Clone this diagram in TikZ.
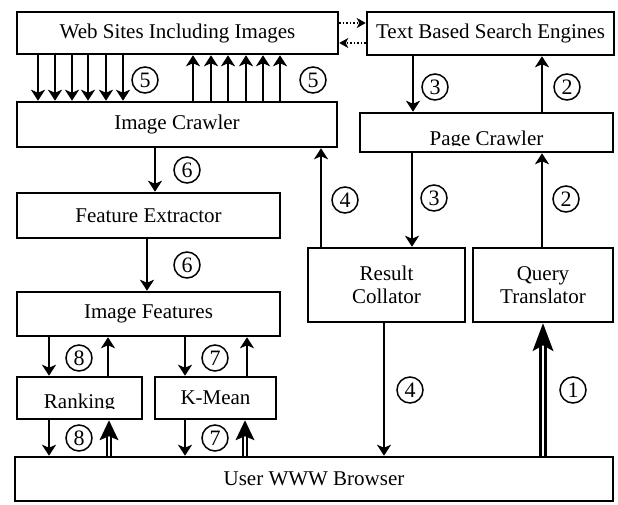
\documentclass[tikz,border=0pt]{standalone}
\usepackage{fontspec}
\setmainfont{Liberation Serif}
\usetikzlibrary{arrows.meta,calc}
\begin{document}
\begin{tikzpicture}[x=1pt,y=-1pt,
  box/.style={draw,line width=2.5pt,inner sep=0pt,align=center,font=\fontsize{21}{23}\selectfont},
  lbl/.style={inner sep=0pt,font=\fontsize{21}{23}\selectfont},
  arr/.style={line width=2pt,-{Stealth[length=11pt,width=14pt,inset=3pt]}},
  dotarr/.style={line width=1.5pt,dotted,-{Stealth[length=9pt,width=10pt,inset=2.5pt]}},
  num/.style={circle,draw,line width=1.5pt,minimum size=26pt,inner sep=0pt,font=\fontsize{22}{24}\selectfont},
  dblbig/.style={draw,double=white,double distance=2.8pt,line width=2.8pt},
  dblsmall/.style={draw,double=white,double distance=2.3pt,line width=2.2pt},
]
\useasboundingbox (0,0) rectangle (618,504);

% boxes
\node[box,minimum width=321pt,minimum height=42pt] (web) at (177.5,33) {Web Sites Including Images};
\node[box,minimum width=247pt,minimum height=43pt] (tbse) at (490.5,33.5) {Text Based Search Engines};
\node[box,minimum width=320pt,minimum height=45pt] (crawler) at (177,124.5) {Image Crawler};
\node[box,minimum width=253pt,minimum height=39pt] (pc) at (486.5,132.5) {};
\node[box,minimum width=263pt,minimum height=45pt] (fe) at (148.5,215.5) {Feature Extractor};
\node[box,minimum width=263pt,minimum height=44pt] (if) at (148.5,314) {Image Features};
\node[box,minimum width=157pt,minimum height=74pt] (rc) at (386.5,285) {Result\\Collator};
\node[box,minimum width=140pt,minimum height=74pt] (qt) at (543,285) {Query\\Translator};
\node[box,minimum width=125pt,minimum height=42pt] (ranking) at (79.5,398) {};
\node[box,minimum width=121pt,minimum height=42pt] (kmean) at (215.5,398) {K-Mean};
\node[box,minimum width=598pt,minimum height=44pt] (browser) at (314,479) {User WWW Browser};

% clipped texts
\begin{scope}
  \clip (pc.west |- 0,114) rectangle (pc.east |- 0,145.5);
  \node[lbl,anchor=base] (pctext) at (486.5,145) {Page Crawler};
\end{scope}
\begin{scope}
  \clip (ranking.west |- 0,378) rectangle (ranking.east |- 0,408.5);
  \node[lbl,anchor=base] (rktext) at (79.5,408) {Ranking};
\end{scope}

% dotted arrows
\draw[dotarr] (web.east |- 0,23) -- (tbse.west |- 0,23);
\draw[dotarr] (tbse.west |- 0,43) -- (web.east |- 0,43);

% step 5
\foreach \x in {38,55,72,88,106,123}
  \draw[arr] (web.south -| \x,0) -- (crawler.north -| \x,0);
\foreach \x in {193,211,228,246,263,280}
  \draw[arr] (crawler.north -| \x,0) -- (web.south -| \x,0);
\node[num] (n5a) at (145,80) {5};
\node[num] (n5b) at (313,80) {5};

% steps 2 and 3 (top)
\draw[arr] (tbse.south -| 413,0) -- (pc.north -| 413,0);
\draw[arr] (pc.north -| 542,0) -- (tbse.south -| 542,0);
\node[num] (n3a) at (435,87) {3};
\node[num] (n2a) at (567,87) {2};

% steps 2 and 3 (middle)
\draw[arr] (pc.south -| 412,0) -- (rc.north -| 412,0);
\draw[arr] (qt.north -| 542,0) -- (pc.south -| 542,0);
\node[num] (n3b) at (434,198) {3};
\node[num] (n2b) at (566,199) {2};

% step 4
\draw[arr] (rc.north -| 321,0) -- (crawler.south -| 321,0);
\node[num] (n4a) at (345,200) {4};
\draw[arr] (rc.south -| 384,0) -- (browser.north -| 384,0);
\node[num] (n4b) at (410,390) {4};

% step 1
\draw[dblbig] (browser.north -| 543,0) -- ($(qt.south -| 543,0)+(0,20)$);
\fill (qt.south -| 543,0) -- ++(-10.5,28) -- ++(10.5,-6) -- ++(10.5,6) -- cycle;
\node[num] (n1) at (573,390) {1};

% step 6
\draw[arr] (crawler.south -| 155,0) -- (fe.north -| 155,0);
\draw[arr] (fe.south -| 147,0) -- (if.north -| 147,0);
\node[num] (n6a) at (187,170) {6};
\node[num] (n6b) at (187,265) {6};

% step 8
\draw[arr] (if.south -| 49,0) -- (ranking.north -| 49,0);
\draw[arr] (ranking.north -| 108,0) -- (if.south -| 108,0);
\node[num] (n8a) at (79,358) {8};
\draw[arr] (ranking.south -| 49,0) -- (browser.north -| 49,0);
\draw[dblsmall] (browser.north -| 109,0) -- ($(ranking.south -| 109,0)+(0,14)$);
\fill (ranking.south -| 109,0) -- ++(-9.5,20) -- ++(9.5,-4) -- ++(9.5,4) -- cycle;
\node[num] (n8b) at (79,438) {8};

% step 7
\draw[arr] (if.south -| 185,0) -- (kmean.north -| 185,0);
\draw[arr] (kmean.north -| 247,0) -- (if.south -| 247,0);
\node[num] (n7a) at (215,358) {7};
\draw[arr] (kmean.south -| 185,0) -- (browser.north -| 185,0);
\draw[dblsmall] (browser.north -| 245,0) -- ($(kmean.south -| 245,0)+(0,14)$);
\fill (kmean.south -| 245,0) -- ++(-9.5,20) -- ++(9.5,-4) -- ++(9.5,4) -- cycle;
\node[num] (n7b) at (215,438) {7};
\end{tikzpicture}
\end{document}
